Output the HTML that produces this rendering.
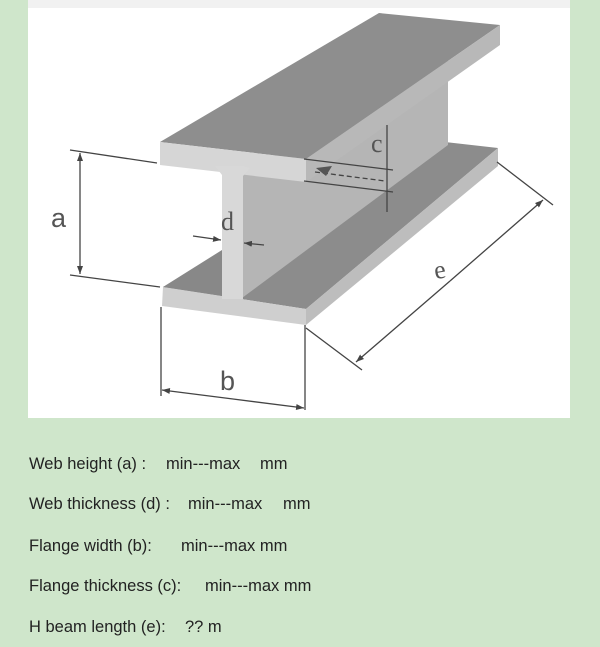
<!DOCTYPE html>
<html><head><style>
body{margin:0;width:600px;height:647px;background:#cfe6cb;position:relative;overflow:hidden;font-family:"Liberation Sans",sans-serif;}
svg{position:absolute;left:0;top:0}
.t{position:absolute;font-size:16.5px;color:#222;white-space:pre;}
</style></head><body>
<svg width="600" height="420" viewBox="0 0 600 420">
<defs>
<marker id="ar" markerWidth="8" markerHeight="6" refX="8" refY="3" orient="auto" markerUnits="userSpaceOnUse"><path d="M0,0L8,3L0,6z" fill="#444"/></marker>
</defs>
<rect x="28" y="0" width="542" height="418" fill="#fff"/>
<rect x="28" y="0" width="542" height="8" fill="#f1f1f1"/>
<polygon points="163,287 306,309 498,148 445,142" fill="#8c8c8c"/>
<polygon points="306,309 498,148 498,166 306,325" fill="#bdbdbd"/>
<polygon points="163,287 306,309 306,325 162,306" fill="#cfcfcf"/>
<polygon points="242,172 448,60 448,145 242,298" fill="#b5b5b5"/>
<polygon points="163,287 222,250 222,296" fill="#888"/>
<polygon points="160,142 306,159 500,25 379,13" fill="#8e8e8e"/>
<polygon points="306,159 500,25 500,45 306,182" fill="#b8b8b8"/>
<polygon points="160,142 306,159 306,182 160,165" fill="#d6d6d6"/>
<rect x="222" y="166" width="21" height="133" fill="#d8d8d8"/>
<polygon points="215,166 222,166 222,175" fill="#d8d8d8"/>
<polygon points="243,166 250,168 243,176" fill="#d8d8d8"/>
<g stroke="#444" stroke-width="1.3" fill="none">
<line x1="70" y1="150" x2="157" y2="163"/>
<line x1="70" y1="275" x2="160" y2="287"/>
<line x1="80" y1="212" x2="80" y2="153" marker-end="url(#ar)"/>
<line x1="80" y1="212" x2="80" y2="274" marker-end="url(#ar)"/>
<line x1="193" y1="236" x2="221" y2="240" marker-end="url(#ar)"/>
<line x1="264" y1="245" x2="244" y2="243" marker-end="url(#ar)"/>
<line x1="387" y1="125" x2="387" y2="212"/>
<line x1="304" y1="159" x2="393" y2="170"/>
<line x1="304" y1="181" x2="393" y2="192"/>
<line x1="315" y1="172" x2="385" y2="181" stroke-dasharray="5,3"/>
<line x1="497" y1="162" x2="553" y2="205"/>
<line x1="306" y1="328" x2="362" y2="370"/>
<line x1="450" y1="281" x2="543" y2="200" marker-end="url(#ar)"/>
<line x1="450" y1="281" x2="356" y2="362" marker-end="url(#ar)"/>
<line x1="161" y1="307" x2="161" y2="396"/>
<line x1="305" y1="325" x2="305" y2="410"/>
<line x1="233" y1="399" x2="162" y2="390" marker-end="url(#ar)"/>
<line x1="233" y1="399" x2="304" y2="408" marker-end="url(#ar)"/>
</g>
<polygon points="316,168 332,166 326,176" fill="#555"/>
<g font-family="Liberation Sans, sans-serif" fill="#555" font-size="27">
<text x="51" y="227">a</text>
<text x="220" y="390">b</text>
</g>
<g font-family="Liberation Serif, serif" fill="#555" font-size="26">
<text x="221" y="230">d</text>
<text x="371" y="152">c</text>
<text x="434" y="278" transform="rotate(-10 442 270)">e</text>
</g>
</svg>
<div class="t" style="left:29px;top:455px">Web height (a) :</div><div class="t" style="left:166px;top:455px">min---max</div><div class="t" style="left:260px;top:455px">mm</div>
<div class="t" style="left:29px;top:495px">Web thickness (d) :</div><div class="t" style="left:188px;top:495px">min---max</div><div class="t" style="left:283px;top:495px">mm</div>
<div class="t" style="left:29px;top:537px">Flange width (b):</div><div class="t" style="left:181px;top:537px">min---max mm</div>
<div class="t" style="left:29px;top:577px">Flange thickness (c):</div><div class="t" style="left:205px;top:577px">min---max mm</div>
<div class="t" style="left:29px;top:618px">H beam length (e):</div><div class="t" style="left:185px;top:618px">?? m</div>
</body></html>
